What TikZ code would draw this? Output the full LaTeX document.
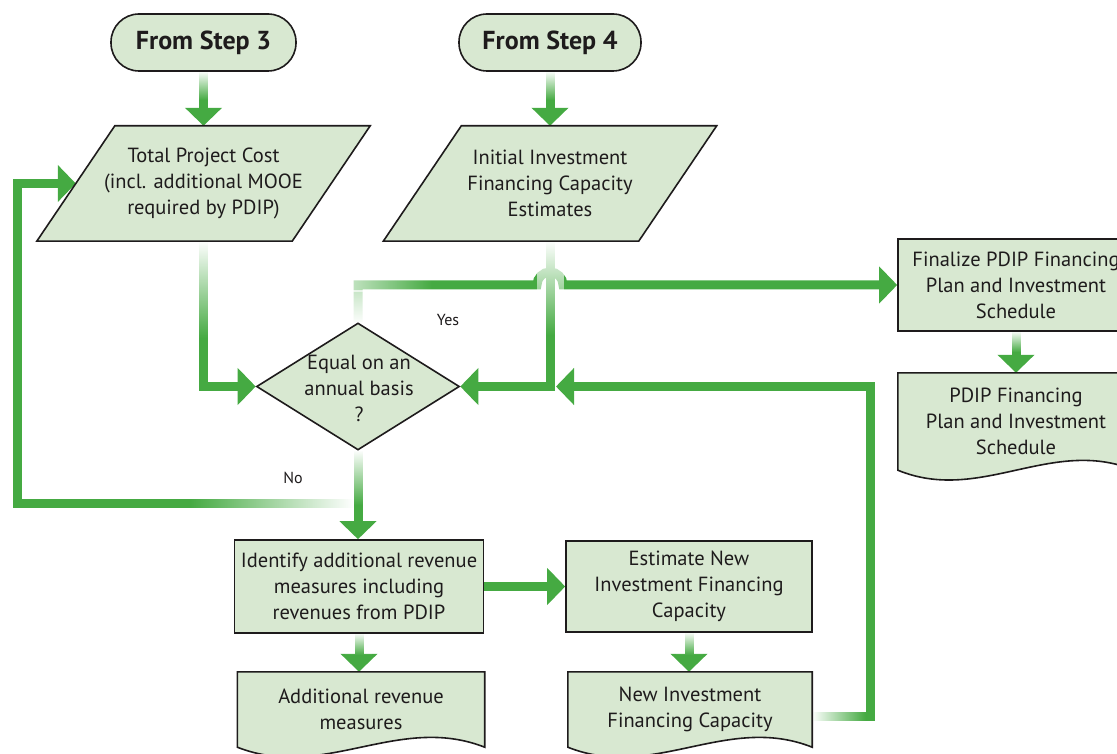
\documentclass[tikz,border=0pt]{standalone}
\usepackage{fontspec}
\setmainfont{PT Sans}
\usetikzlibrary{arrows.meta,calc,fadings,backgrounds,shapes.geometric}

\definecolor{boxfill}{RGB}{216,232,209}
\definecolor{flowgreen}{RGB}{69,170,66}
\definecolor{ink}{RGB}{30,27,28}

% white veils that make a connector seem to grow out of its source
\tikzfading[name=veiltop, top color=transparent!0, bottom color=transparent!100]
\tikzfading[name=veilright, right color=transparent!0, left color=transparent!100]
\tikzfading[name=veilleft, left color=transparent!0, right color=transparent!100]
\tikzfading[name=softleft, left color=transparent!30, right color=transparent!100]
\tikzfading[name=softbottom, bottom color=transparent!0, top color=transparent!30]

\tikzset{
  x=1pt, y=-1pt,
  txt/.style={font=\fontsize{20.5}{26}\selectfont, text=ink, align=center},
  outline/.style={draw=ink, line width=1.6pt, fill=boxfill, line join=miter},
  terminal/.style={outline, rounded corners=28pt, minimum width=185pt, minimum height=57pt,
    font=\fontsize{26}{30}\selectfont\bfseries, text=ink},
  procbox/.style={txt, outline, inner sep=0pt},
  slantbox/.style={txt, minimum width=255pt, minimum height=115pt, inner sep=0pt},
  docbox/.style={txt, inner sep=0pt},
  decision/.style={outline, diamond, minimum width=203pt, minimum height=127pt, inner sep=0pt},
  flowline/.style={draw=flowgreen, line width=9pt, line join=miter},
  flow/.style={flowline, -{Triangle[width=36pt,length=18pt]}},
  veil/.style={fill=white, path fading=#1},
  branch/.style={font=\fontsize{16}{18}\selectfont, text=ink}
}

% parallelogram (data) outline around a text node
\newcommand\drawslant[1]{%
  \path[outline] ($(#1.north west)+(39,0)$) -- ($(#1.north east)+(39,0)$)
    -- ($(#1.south east)+(-39,0)$) -- ($(#1.south west)+(-39,0)$) -- cycle;}
% document outline with a wavy lower edge
\newcommand\drawdocument[1]{%
  \path[outline] (#1.south west) -- (#1.north west) -- (#1.north east) -- (#1.south east)
    .. controls ($(#1.south west)!0.65!(#1.south east)+(0,-34)$)
       and ($(#1.south west)!0.35!(#1.south east)+(0,34)$) .. (#1.south west) -- cycle;}

\begin{document}
\begin{tikzpicture}
\useasboundingbox (0,0) rectangle (1117,754);

% terminals
\node[terminal] (s3) at (203.5,42.5) {From Step 3};
\node[terminal, minimum width=182pt] (s4) at (550,42.5) {From Step 4};

% data inputs
\node[slantbox] (tpc) at (203.5,183.5) {Total Project Cost\\(incl. additional MOOE\\required by PDIP)};
\node[slantbox] (ifc) at (550,183.5) {Initial Investment\\Financing Capacity\\Estimates};

% decision
\node[decision] (dec) at (358,386.5) {};
\node[txt] (dectext) at (359,388) {Equal on an\\annual basis\\?};

% processes
\node[procbox, minimum width=236pt, minimum height=92pt] (fin) at (1016,285)
  {Finalize PDIP Financing\\Plan and Investment\\Schedule};
\node[procbox, minimum width=249pt, minimum height=93pt] (ident) at (359,586.5)
  {Identify additional revenue\\measures including\\revenues from PDIP};
\node[procbox, minimum width=246pt, minimum height=91pt] (est) at (689,586.5)
  {Estimate New\\Investment Financing\\Capacity};

% documents
\node[docbox, minimum width=236pt, minimum height=97pt] (plan) at (1016,421.5)
  {PDIP Financing\\Plan and Investment\\Schedule};
\node[docbox, minimum width=247pt, minimum height=75pt] (addl) at (361,709.5)
  {Additional revenue\\measures};
\node[docbox, minimum width=244pt, minimum height=75pt] (newcap) at (690,709.5)
  {New Investment\\Financing Capacity};

% branch labels
\node[branch] (yes) at (448,320) {Yes};
\node[branch] (no) at (293,478) {No};

% junction points
\coordinate (nosplit) at (358,503);
\coordinate (join) at (556,386.5);
\coordinate (rloop) at (870,386.5);

\begin{scope}[on background layer]
  % connectors
  \draw[flow] (s3.south) -- (s3.south |- tpc.north);
  \draw[flow] (s4.south) -- (ifc.north);
  \draw[flow] (tpc.south) |- (dec.west);
  \draw[flow] (ifc.south) |- (dec.east);
  \draw[flow] ([yshift=-7pt]newcap.east) -| (rloop) -- (join);
  \draw[flow] (dec.north) |- (537,285) arc[start angle=180, end angle=360, radius=13] -- (fin.west);
  \draw[flow] (dec.south) -- (dec.south |- ident.north);
  \draw[flow] (nosplit) -- (17.5,503) |- (tpc.west);
  \draw[flow] (ident.east) -- (est.west);
  \draw[flow] (ident.south) -- (ident.south |- addl.north);
  \draw[flow] (est.south) -- (est.south |- newcap.north);
  \draw[flow] (fin.south) -- (plan.north);

  % veils near the sources
  \path[veil=veiltop] (190,71) rectangle (217,100);
  \path[veil=veiltop] (537,71) rectangle (564,100);
  \path[veil=veiltop] (190,241) rectangle (217,338);
  \path[veil=veiltop] (537,241) rectangle (564,335);
  \path[veil=veiltop] (345,450) rectangle (372,505);
  \path[veil=veilright] (190,497) rectangle (353.5,510);
  \path[veil=softbottom] (348,290) rectangle (368,324);
  \path[veil=softleft] (348,278) rectangle (432,292);
  \path[veil=veiltop] (345,633) rectangle (372,655);
  \path[veil=veiltop] (676,632) rectangle (703,655);
  \path[veil=veiltop] (1003,331) rectangle (1030,352);
  \path[veil=veilleft] (812,711) rectangle (865.5,724);

  % shapes drawn by hand
  \drawslant{tpc}
  \drawslant{ifc}
  \drawdocument{plan}
  \drawdocument{addl}
  \drawdocument{newcap}
\end{scope}
\end{tikzpicture}
\end{document}
